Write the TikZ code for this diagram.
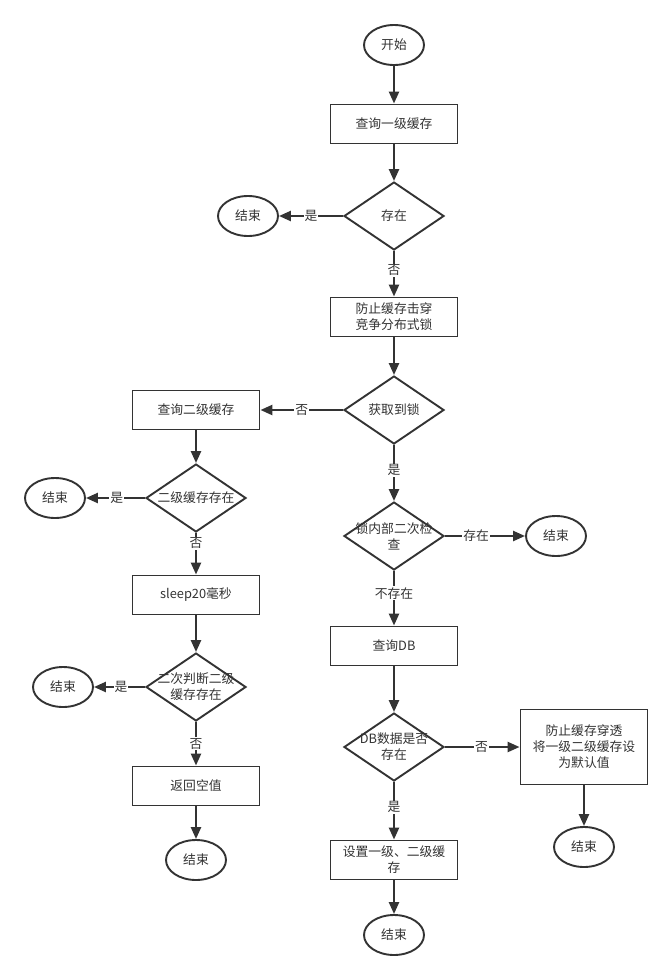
\documentclass[tikz,border=0pt]{standalone}
\usepackage{fontspec}
\setmainfont{Noto Sans CJK SC}
\usetikzlibrary{shapes.geometric,arrows.meta}
\definecolor{ink}{HTML}{333333}
\begin{document}
\begin{tikzpicture}[x=1pt,y=-1pt,
  every node/.style={font=\fontsize{12.8}{16}\selectfont, text=ink},
  box/.style={draw=ink, line width=1.9pt, rectangle, minimum width=127pt, minimum height=39pt, inner sep=2pt, align=center, fill=white},
  oval/.style={draw=ink, line width=1.9pt, ellipse, minimum width=60pt, minimum height=40pt, inner sep=0pt, fill=white},
  dia/.style={draw=ink, line width=1.9pt, diamond, minimum width=100pt, minimum height=68pt, inner sep=0pt, fill=white},
  dtext/.style={align=center, inner sep=0pt},
  conn/.style={draw=ink, line width=2.4pt, -{Triangle[length=12pt,width=10pt]}},
  lbl/.style={fill=white, inner sep=1pt}
]
\useasboundingbox (0,0) rectangle (672,978);

% main column
\node[oval] (start) at (394,45) {开始};
\node[box] (q1) at (394,124) {查询一级缓存};
\node[dia, label={[dtext]center:存在}] (d1) at (394,216) {};
\node[oval] (end1) at (248,216) {结束};
\node[box] (lock) at (394,317) {防止缓存击穿\\竞争分布式锁};
\node[dia, label={[dtext]center:获取到锁}] (d2) at (394,410) {};

% left column
\node[box] (q2) at (196,410) {查询二级缓存};
\node[dia, label={[dtext]center:二级缓存存在}] (d3) at (196,498) {};
\node[oval] (end2) at (55,498) {结束};
\node[box] (sleep) at (196,595) {sleep20毫秒};
\node[dia, label={[dtext]center:二次判断二级\\缓存存在}] (d4) at (196,687) {};
\node[oval] (end3) at (63,687) {结束};
\node[box] (ret) at (196,786) {返回空值};
\node[oval] (end4) at (196,860) {结束};

% right column
\node[dia, label={[dtext]center:锁内部二次检\\查}] (d5) at (394,536) {};
\node[oval] (end5) at (556,536) {结束};
\node[box] (qdb) at (394,646) {查询DB};
\node[dia, label={[dtext]center:DB数据是否\\存在}] (d6) at (394,747) {};
\node[box, minimum height=75pt] (pen) at (584,747) {防止缓存穿透\\将一级二级缓存设\\为默认值};
\node[oval] (end6) at (584,847) {结束};
\node[box] (set) at (394,860) {设置一级、二级缓\\存};
\node[oval] (end7) at (394,935) {结束};

% connectors
\draw[conn] (start) -- (q1);
\draw[conn] (q1) -- (d1);
\draw[conn] (d1) -- node[lbl, pos=0.5] {是} (end1);
\draw[conn] (d1) -- node[lbl, pos=0.42] {否} (lock);
\draw[conn] (lock) -- (d2);
\draw[conn] (d2) -- node[lbl, pos=0.5] {否} (q2);
\draw[conn] (q2) -- (d3);
\draw[conn] (d3) -- node[lbl, pos=0.48] {是} (end2);
\draw[conn] (d3) -- node[lbl, pos=0.25] {否} (sleep);
\draw[conn] (sleep) -- (d4);
\draw[conn] (d4) -- node[lbl, pos=0.47] {是} (end3);
\draw[conn] (d4) -- node[lbl, pos=0.5] {否} (ret);
\draw[conn] (ret) -- (end4);
\draw[conn] (d2) -- node[lbl, pos=0.45] {是} (d5);
\draw[conn] (d5) -- node[lbl, pos=0.39] {存在} (end5);
\draw[conn] (d5) -- node[lbl, pos=0.41] {不存在} (qdb);
\draw[conn] (qdb) -- (d6);
\draw[conn] (d6) -- node[lbl, pos=0.49] {否} (pen);
\draw[conn] (pen) -- (end6);
\draw[conn] (d6) -- node[lbl, pos=0.44] {是} (set);
\draw[conn] (set) -- (end7);
\end{tikzpicture}
\end{document}
